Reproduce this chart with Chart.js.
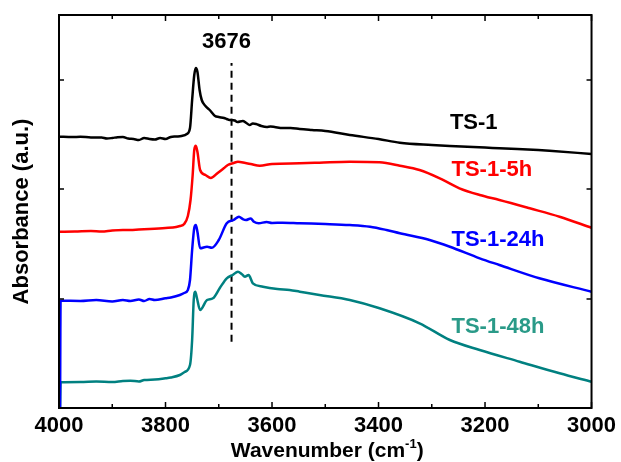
<!DOCTYPE html>
<html>
<head>
<meta charset="utf-8">
<script src="https://cdn.jsdelivr.net/npm/chart.js@4/dist/chart.umd.min.js"></script>
<style>
html,body{margin:0;padding:0;background:#fff;}
#wrap{width:621px;height:462px;position:relative;}
</style>
</head>
<body>
<div id="wrap"><canvas id="c" width="621" height="462"></canvas></div>
<script>
// ---- data (wavenumber in cm-1, absorbance in a.u.) ----
const ts1Wn  = [4000,3975,3960,3940,3920,3910,3900,3890,3880,3870,3860,3850,3840,3830,3820,3810,3800,3790,3780,3770,3760,3754,3750,3746,3743,3740,3736,3732,3725,3717,3707,3700,3690,3685,3680,3676,3670,3665,3655,3648,3642,3636,3630,3620,3610,3603,3595,3580,3565,3548,3525,3500,3454,3400,3360,3300,3266,3200,3173,3100,3079,3000];
const ts1Abs = [2.713,2.71,2.712,2.706,2.705,2.695,2.70,2.708,2.71,2.695,2.69,2.68,2.70,2.69,2.685,2.70,2.69,2.71,2.715,2.72,2.74,2.80,3.08,3.33,3.40,3.36,3.18,3.08,3.02,2.98,2.92,2.91,2.90,2.89,2.88,2.88,2.875,2.86,2.87,2.85,2.83,2.845,2.84,2.82,2.81,2.815,2.81,2.80,2.80,2.79,2.78,2.77,2.73,2.69,2.653,2.63,2.62,2.605,2.597,2.58,2.573,2.54];

const ts5Wn  = [4000,3970,3940,3920,3900,3880,3866,3850,3830,3800,3780,3773,3765,3758,3753,3749,3746,3743,3740,3735,3725,3715,3702,3690,3683,3672,3664,3650,3640,3623,3600,3548,3511,3454,3398,3360,3323,3285,3248,3210,3173,3116,3060,3000];
const ts5Abs = [1.763,1.765,1.77,1.765,1.775,1.78,1.78,1.785,1.79,1.80,1.81,1.82,1.84,1.92,2.08,2.33,2.58,2.623,2.56,2.38,2.33,2.30,2.35,2.40,2.43,2.45,2.463,2.45,2.44,2.423,2.44,2.447,2.453,2.463,2.457,2.423,2.38,2.297,2.197,2.13,2.08,1.997,1.913,1.803];

const ts24Wn  = [3998,3997,3960,3930,3900,3880,3866,3850,3840,3830,3820,3800,3790,3773,3765,3758,3754,3750,3746,3743,3740,3735,3722,3713,3700,3685,3672,3662,3655,3649,3640,3634,3625,3610,3600,3580,3548,3500,3454,3416,3385,3360,3304,3266,3210,3173,3098,3000];
const ts24Abs = [0,1.073,1.07,1.08,1.065,1.08,1.07,1.085,1.07,1.09,1.08,1.097,1.105,1.13,1.15,1.18,1.28,1.58,1.80,1.83,1.76,1.597,1.613,1.603,1.68,1.847,1.88,1.913,1.89,1.88,1.895,1.863,1.847,1.86,1.85,1.853,1.847,1.84,1.83,1.813,1.78,1.747,1.68,1.613,1.497,1.43,1.297,1.163];

const ts48Wn  = [3998,3997,3960,3930,3900,3880,3866,3850,3840,3820,3800,3790,3773,3764,3754,3750,3747,3744,3741,3735,3722,3711,3698,3685,3674,3664,3657,3651,3644,3636,3617,3590,3567,3548,3511,3454,3398,3323,3266,3210,3135,3060,3000];
const ts48Abs = [0,0.257,0.26,0.265,0.26,0.27,0.273,0.265,0.28,0.285,0.297,0.305,0.33,0.36,0.43,0.68,1.08,1.163,1.10,0.98,1.08,1.097,1.20,1.297,1.33,1.363,1.34,1.313,1.33,1.247,1.213,1.19,1.18,1.163,1.13,1.08,0.997,0.847,0.68,0.58,0.463,0.347,0.263];

const seriesNames  = ['TS-1','TS-1-5h','TS-1-24h','TS-1-48h'];
const lineColors   = ['#000000','#ff0000','#0000ff','#008080'];
const labelColors  = ['#000000','#ff0000','#0000ff','#2a9a88'];
const labelWn      = [3266,3263,3263,3263];
const labelAbs     = [2.85,2.38,1.68,0.81];

const markerWn = 3676;
const markerAbs = [0.663, 3.45];
const markerText = '3676';
const markerTextAbs = 3.66;

const xTickLabels = [4000,3800,3600,3400,3200,3000];
const yTickValues = [1.09,2.19,3.28];

const FONT = '"Liberation Sans", Arial, Helvetica, sans-serif';

function pts(wn, ab){ return wn.map((w,i)=>({x:w,y:ab[i]})); }

const seriesData = [pts(ts1Wn,ts1Abs), pts(ts5Wn,ts5Abs), pts(ts24Wn,ts24Abs), pts(ts48Wn,ts48Abs)];

const datasets = seriesData.map((d,i)=>({
  label: seriesNames[i], data: d, borderColor: lineColors[i], backgroundColor: lineColors[i],
  borderWidth: 2.5, pointRadius: 0, cubicInterpolationMode: 'monotone', fill: false
}));
datasets.push({
  label: 'marker', data: [{x:markerWn,y:markerAbs[0]},{x:markerWn,y:markerAbs[1]}],
  borderColor:'#000', borderWidth: 2, borderDash:[7,5], pointRadius:0, fill:false
});

const framePlugin = {
  id: 'frame',
  afterDatasetsDraw(chart){
    const {ctx, chartArea:a, scales:{x,y}} = chart;
    ctx.save();
    ctx.strokeStyle = '#000';
    ctx.lineWidth = 2;
    ctx.strokeRect(a.left, a.top, a.right-a.left, a.bottom-a.top);
    ctx.lineWidth = 1.5;
    ctx.beginPath();
    for (let w=3000; w<=4000; w+=100){
      const px = x.getPixelForValue(w);
      const len = (w % 200 === 0) ? 6 : 4;
      ctx.moveTo(px, a.bottom); ctx.lineTo(px, a.bottom-len);
      ctx.moveTo(px, a.top); ctx.lineTo(px, a.top+len);
    }
    yTickValues.forEach(v=>{
      const py = y.getPixelForValue(v);
      ctx.moveTo(a.left, py); ctx.lineTo(a.left+5, py);
      ctx.moveTo(a.right, py); ctx.lineTo(a.right-5, py);
    });
    ctx.stroke();

    // text labels
    ctx.font = 'bold 22px ' + FONT;
    ctx.textBaseline = 'middle';
    ctx.textAlign = 'left';
    seriesNames.forEach((n,i)=>{
      ctx.fillStyle = labelColors[i];
      ctx.fillText(n, x.getPixelForValue(labelWn[i]), y.getPixelForValue(labelAbs[i]));
    });
    ctx.fillStyle = '#000';
    ctx.textAlign = 'center';
    ctx.fillText(markerText, x.getPixelForValue(markerWn)-5, y.getPixelForValue(markerTextAbs));

    // x axis title with superscript
    const main = 'Wavenumber (cm', sup = '-1', close = ')';
    ctx.font = 'bold 21px ' + FONT;
    const wMain = ctx.measureText(main).width;
    const wClose = ctx.measureText(close).width;
    ctx.font = 'bold 13px ' + FONT;
    const wSup = ctx.measureText(sup).width;
    const total = wMain + wSup + wClose;
    const cx = (a.left + a.right)/2 + 2;
    let sx = cx - total/2;
    const base = 457;
    ctx.textAlign = 'left';
    ctx.textBaseline = 'alphabetic';
    ctx.font = 'bold 21px ' + FONT;
    ctx.fillText(main, sx, base);
    ctx.font = 'bold 13px ' + FONT;
    ctx.fillText(sup, sx + wMain, base - 9);
    ctx.font = 'bold 21px ' + FONT;
    ctx.fillText(close, sx + wMain + wSup, base);
    ctx.restore();
  }
};

new Chart(document.getElementById('c'), {
  type: 'line',
  data: { datasets },
  options: {
    responsive: false,
    animation: false,
    layout: { padding: { top: 15, right: 29, bottom: 0, left: 0 } },
    plugins: { legend: { display: false }, tooltip: { enabled: false } },
    scales: {
      x: {
        type: 'linear', reverse: true, min: 3000, max: 4000,
        afterBuildTicks(s){ s.ticks = xTickLabels.map(v=>({value:v})); },
        afterFit(s){ s.height = 54; },
        grid: { display: false, drawTicks: false },
        border: { display: false },
        ticks: { color:'#000', font:{ family: FONT, size: 22, weight: 'bold' }, padding: 5,
                 maxRotation: 0, autoSkip: false, callback: v => String(v) }
      },
      y: {
        type: 'linear', min: 0, max: 3.93,
        afterFit(s){ s.width = 59; },
        grid: { display: false, drawTicks: false },
        border: { display: false },
        ticks: { display: false },
        title: { display: true, text: 'Absorbance (a.u.)', color:'#000',
                 font:{ family: FONT, size: 22, weight: 'bold' }, padding: { top: 9, bottom: 0 } }
      }
    }
  },
  plugins: [framePlugin]
});
</script>
</body>
</html>
